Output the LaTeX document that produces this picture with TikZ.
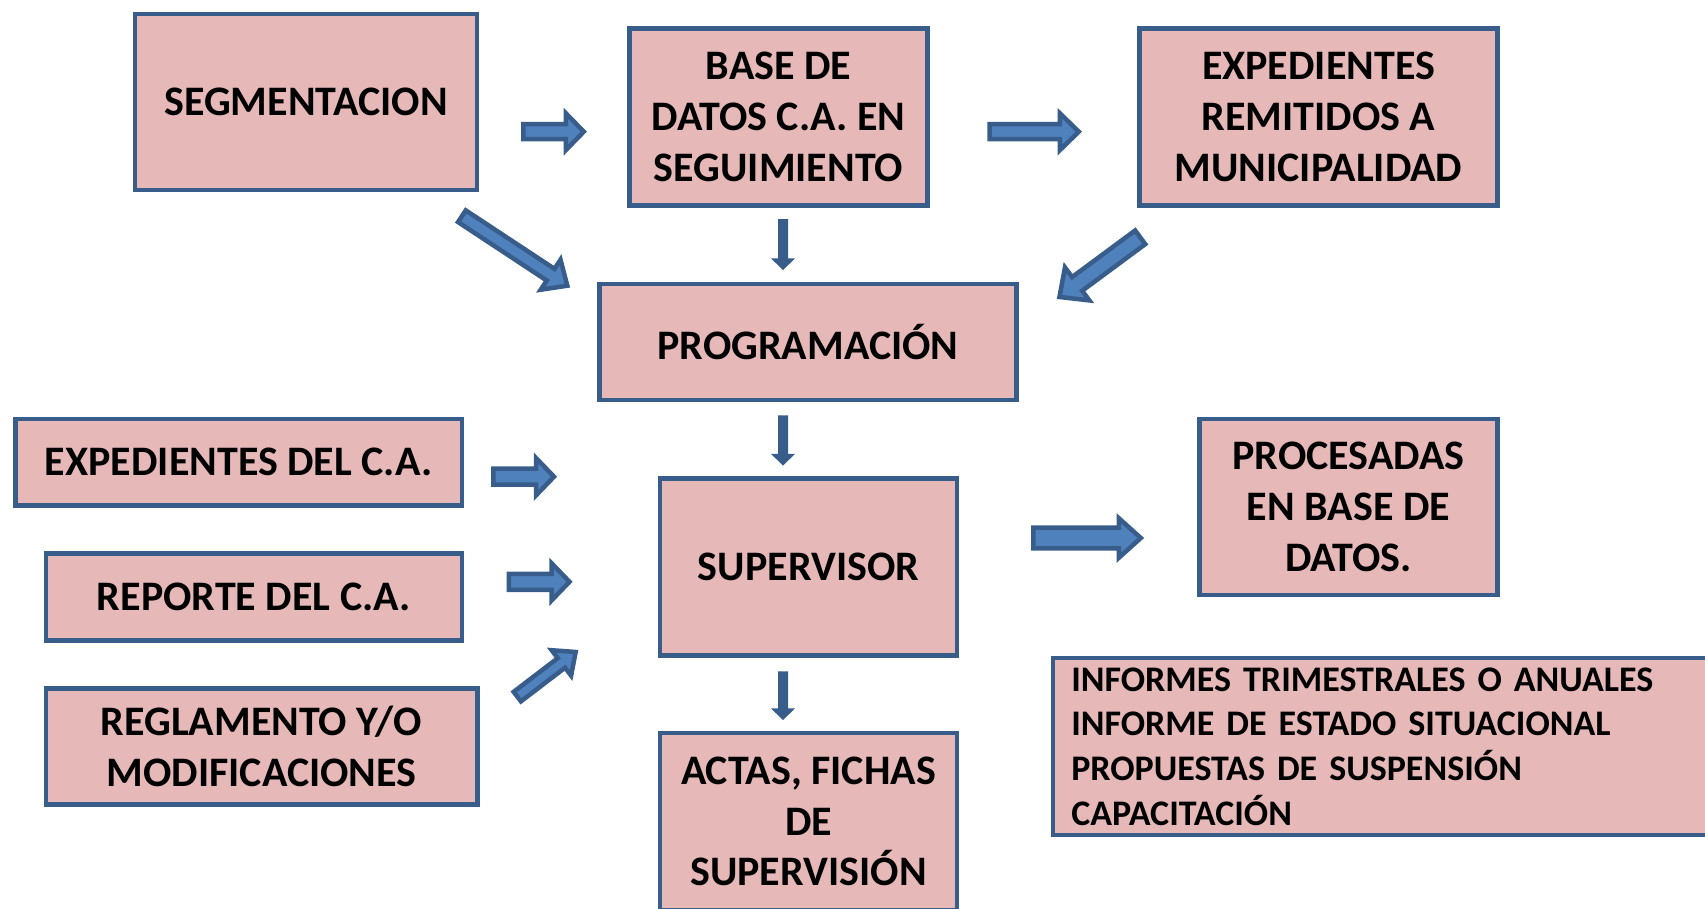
\documentclass[tikz,border=0pt]{standalone}
\usepackage{fontspec}
\setmainfont{Carlito}
\usetikzlibrary{calc}
\definecolor{boxfill}{HTML}{E6B9B8}
\definecolor{boxline}{HTML}{385D8A}
\definecolor{arrfill}{HTML}{4F81BD}
\definecolor{arrline}{HTML}{385D8A}
% #1 style, #2 tail, #3 tip, #4 shaft half width, #5 head half width, #6 head length
\newcommand\blockarrow[6][bigarrow]{%
  \path[#1] let \p1=($(#3)-(#2)$), \n1={atan2(\y1,\x1)}, \n2={veclen(\x1,\y1)} in
  [shift={(#2)}, rotate=\n1]
  (0,#4) -- ({\n2-#6},#4) -- ({\n2-#6},#5) -- (\n2,0) -- ({\n2-#6},-#5) -- ({\n2-#6},-#4) -- (0,-#4) -- cycle;
}
\begin{document}
\begin{tikzpicture}[x=1pt,y=-1pt,
  box/.style={draw=boxline, fill=boxfill, line width=4.5pt, align=center, inner sep=0pt,
    font={\fontsize{42}{50.6}\selectfont\bfseries}},
  infobox/.style={box, align=left, font={\fontsize{36}{44.6}\selectfont\bfseries}},
  bigarrow/.style={draw=arrline, fill=arrfill, line width=4.5pt},
  smallarrow/.style={draw=arrline, fill=arrline, line width=1.5pt}]
\useasboundingbox (0,0) rectangle (1705,908);
\clip (0,0) rectangle (1705,908);

\node[box, minimum width=342pt, minimum height=176pt] (seg) at (306.1,102.2) {SEGMENTACION};
\node[box, minimum width=298pt, minimum height=177pt] (base) at (778.5,116.9) {BASE DE\\DATOS C.A. EN\\SEGUIMIENTO};
\node[box, minimum width=357.6pt, minimum height=177pt] (exprem) at (1318.5,116.9) {EXPEDIENTES\\REMITIDOS A\\MUNICIPALIDAD};
\node[box, minimum width=417.4pt, minimum height=116.2pt] (prog) at (808,342) {PROGRAMACIÓN};
\node[box, minimum width=446.8pt, minimum height=86.8pt] (expca) at (238.7,462.2) {EXPEDIENTES DEL C.A.};
\node[box, minimum width=416.3pt, minimum height=86.8pt] (rep) at (253.9,597) {REPORTE DEL C.A.};
\node[box, minimum width=431.5pt, minimum height=116.2pt] (reg) at (261.5,746.5) {REGLAMENTO Y/O\\MODIFICACIONES};
\node[box, minimum width=296.7pt, minimum height=177pt] (sup) at (808.5,567.1) {SUPERVISOR};
\node[box, minimum width=297.7pt, minimum height=176pt] (proc) at (1348.4,506.8) {PROCESADAS\\EN BASE DE\\DATOS.};
\node[infobox, text width=630pt, minimum width=667pt, minimum height=177pt, anchor=west] (inf) at (1050.5,746.5)
  {INFORMES TRIMESTRALES O ANUALES\\INFORME DE ESTADO SITUACIONAL\\PROPUESTAS DE SUSPENSIÓN\\CAPACITACIÓN};
\node[box, minimum width=296.7pt, minimum height=177pt] (actas) at (808.5,821.5) {ACTAS, FICHAS\\DE\\SUPERVISIÓN};

\coordinate (a1s) at (523.3,131.7);  \coordinate (a1e) at (583.8,131.7);
\coordinate (a2s) at (989.6,131.7);  \coordinate (a2e) at (1078.8,131.7);
\coordinate (a3s) at (461.9,216.2);  \coordinate (a3e) at (567.3,285.7);
\coordinate (a4s) at (783,219.8);    \coordinate (a4e) at (783,269);
\coordinate (a5s) at (1140.2,237.3); \coordinate (a5e) at (1059.3,297.1);
\coordinate (a6s) at (783,416);      \coordinate (a6e) at (783,464.5);
\coordinate (a7s) at (493.3,476.7);  \coordinate (a7e) at (554,476.7);
\coordinate (a8s) at (508.9,581.8);  \coordinate (a8e) at (569.5,581.8);
\coordinate (a9s) at (517.3,696.6);  \coordinate (a9e) at (575.8,651.9);
\coordinate (a10s) at (1033.3,538);  \coordinate (a10e) at (1140.8,538);
\coordinate (a11s) at (783,672);     \coordinate (a11e) at (783,719);

\blockarrow{a1s}{a1e}{7.5}{18.5}{18}
\blockarrow{a2s}{a2e}{7.5}{18.5}{19}
\blockarrow{a3s}{a3e}{7}{18}{20}
\blockarrow[smallarrow]{a4s}{a4e}{4.25}{10.3}{10}
\blockarrow{a5s}{a5e}{8.5}{20.5}{22}
\blockarrow[smallarrow]{a6s}{a6e}{4.25}{10.3}{10}
\blockarrow{a7s}{a7e}{8}{18.7}{18}
\blockarrow{a8s}{a8e}{8}{18.7}{18}
\blockarrow{a9s}{a9e}{6}{16}{18}
\blockarrow{a10s}{a10e}{10.3}{19.8}{22}
\blockarrow[smallarrow]{a11s}{a11e}{4.25}{10.3}{10}
\end{tikzpicture}
\end{document}
